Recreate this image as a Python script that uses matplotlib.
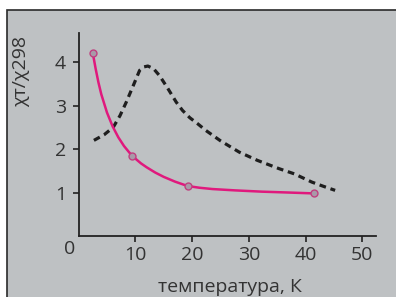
import matplotlib.pyplot as plt
from matplotlib.patches import Rectangle

# fitted curve
fit_t = [2.5, 3.0, 3.5, 4.0, 5.0, 6.0, 7.0, 8.0, 9.0, 10.0, 11.0, 12.0, 13.5, 15.0, 17.0, 19.2, 21.3, 23.6, 27.5, 32.3, 37.0, 41.4]
fit_chi = [4.21, 3.85, 3.53, 3.26, 2.84, 2.52, 2.27, 2.07, 1.91, 1.78, 1.67, 1.58, 1.46, 1.36, 1.25, 1.15, 1.11, 1.08, 1.05, 1.02, 1.0, 0.98]

# measured points
pts_t = [2.5, 9.4, 19.2, 41.4]
pts_chi = [4.21, 1.84, 1.15, 0.99]

# dashed curve
dash_t = [2.7, 4.5, 6.1, 7.3, 8.4, 9.6, 10.75, 11.5, 12.2, 13.2, 14.25, 15.6, 17.2, 18.3, 19.6, 21.0, 22.4, 25.0, 28.3, 31.5, 35.3, 38.0, 41.1, 43.2, 45.2]
dash_chi = [2.2, 2.33, 2.5, 2.77, 3.08, 3.45, 3.81, 3.89, 3.91, 3.85, 3.69, 3.42, 3.08, 2.89, 2.72, 2.58, 2.43, 2.19, 1.93, 1.74, 1.55, 1.43, 1.24, 1.14, 1.05]

xticks = [10, 20, 30, 40, 50]
yticks = [1, 2, 3, 4]

plt.rcParams['font.family'] = ['Open Sans', 'DejaVu Sans']

fig = plt.figure(figsize=(3.96, 2.97), dpi=100, facecolor='white')
fig.patches.append(Rectangle((7 / 396, -0.1), 1.2, 287 / 297 + 0.1,
                             transform=fig.transFigure, facecolor='#bec1c3',
                             edgecolor='#2a2a2a', linewidth=1.2, zorder=-5))

ax = fig.add_axes([78.6 / 396, 61 / 297, 297.4 / 396, 203 / 297])
ax.set_facecolor('none')

ax.plot(dash_t, dash_chi, color='#1e1e1e', lw=2.3, dashes=(2.1, 1.5), zorder=2)
ax.plot(fit_t, fit_chi, color='#e0197d', lw=1.8, zorder=3)
ax.plot(pts_t, pts_chi, 'o', ms=5, mfc='#a89aa8', mec='#c0407f', mew=1, zorder=4)

ax.set_xlim(0, 52.4)
ax.set_ylim(0, 4.67)
ax.set_xticks(xticks)
ax.set_yticks(yticks)
ax.tick_params(axis='both', direction='out', length=4, width=1.2, color='#222222',
               labelsize=14, labelcolor='#333333')
ax.tick_params(axis='x', pad=3.5)
ax.tick_params(axis='y', pad=5)

for s in ['top', 'right']:
    ax.spines[s].set_visible(False)
for s in ['left', 'bottom']:
    ax.spines[s].set_color('#222222')
    ax.spines[s].set_linewidth(1.3)

ax.annotate('0', xy=(0, 0), xytext=(-6.2, -9), textcoords='offset points',
            ha='center', va='center', fontsize=14, color='#333333')

ax.set_ylabel('χт/χ298', fontsize=14, color='#333333')
ax.yaxis.set_label_coords(-0.163, 0.81)
ax.set_xlabel('температура, К', fontsize=14, color='#333333', va='center')
ax.xaxis.set_label_coords(0.509, -0.25)

fig.savefig('out.png', dpi=100, facecolor='white')
